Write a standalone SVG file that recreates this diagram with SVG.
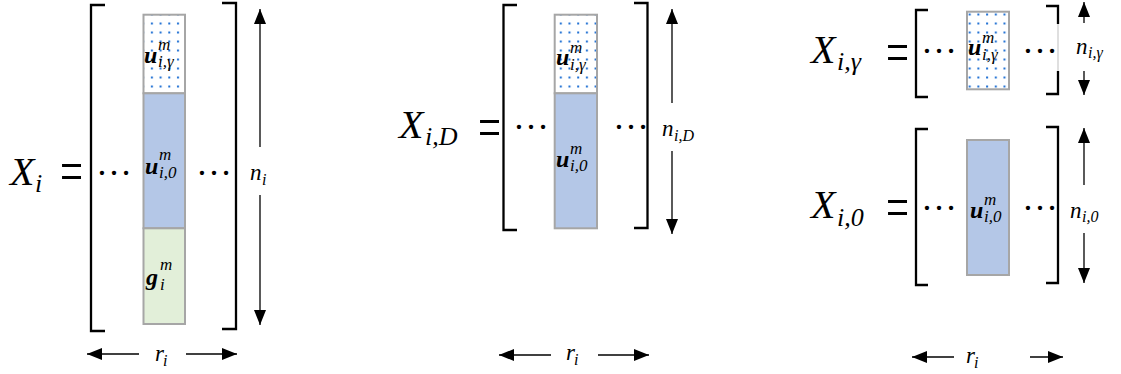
<svg xmlns="http://www.w3.org/2000/svg" width="1121" height="374" viewBox="0 0 1121 374">
<defs>
<style>
.br{fill:none;stroke:#000;stroke-width:2.3}
.cell{stroke:#a6a6a6;stroke-width:2}
.dot{fill:url(#dots)}
.blue{fill:#b4c7e7}
.green{fill:#e2efd9}
.mi{font-family:"Liberation Serif",serif;font-style:italic;fill:#000}
.X{font-size:40px}
.Xs{font-size:26px}
.eq{font-family:"Liberation Serif",serif;font-size:60px;fill:#000}
.dd{font-family:"Liberation Serif",serif;font-size:36px;fill:#000}
.bu{font-family:"Liberation Serif",serif;font-style:italic;font-weight:bold;font-size:24px}
.ss{font-size:17px;font-weight:normal}
.lab{font-size:23px}
.ls{font-size:16px}
.arr{stroke:#000;stroke-width:1.3;fill:none;marker-end:url(#ah)}
</style>
<pattern id="dots" patternUnits="userSpaceOnUse" x="1" y="1" width="8.7" height="9">
<rect width="8.7" height="9" fill="#fff"/>
<rect x="2" y="3.5" width="2" height="2" fill="#2272d4"/>
</pattern>
<marker id="ah" markerUnits="userSpaceOnUse" markerWidth="16" markerHeight="12" refX="15" refY="6" orient="auto">
<path d="M0,0 L15,6 L0,12 z" fill="#000"/>
</marker>
</defs>

<g id="panel-Xi">
<text class="mi X" x="10" y="185">X<tspan class="Xs" x="35" y="192">i</tspan></text>
<text class="eq" x="60" y="191" textLength="23" lengthAdjust="spacingAndGlyphs">=</text>
<path class="br" d="M105,5 H91 V331 H105"/>
<path class="br" d="M222,3 H236 V329 H222"/>
<text class="dd" x="114" y="175" text-anchor="middle">…</text>
<text class="dd" x="214" y="175" text-anchor="middle">…</text>
<rect class="cell dot" x="143.5" y="14.7" width="41.5" height="78.6"/>
<rect class="cell blue" x="143.5" y="93.3" width="41.5" height="135"/>
<rect class="cell green" x="143.5" y="228.3" width="41.5" height="95.7"/>
<text class="bu" x="144" y="63">u<tspan class="ss" x="158" y="50">m</tspan><tspan class="ss" x="158" y="67">i,γ</tspan></text>
<text class="bu" x="145" y="174">u<tspan class="ss" x="159" y="160">m</tspan><tspan class="ss" x="159" y="178">i,0</tspan></text>
<text class="bu" x="146" y="285">g<tspan class="ss" x="160" y="270">m</tspan><tspan class="ss" x="160" y="290">i</tspan></text>
<text class="mi lab" x="250" y="180">n<tspan class="ls" x="262" y="185">i</tspan></text>
<text class="mi lab" x="155" y="361">r<tspan class="ls" x="163" y="366">i</tspan></text>
</g>

<g id="panel-XiD">
<text class="mi X" x="399" y="138">X<tspan class="Xs" x="425" y="145">i,D</tspan></text>
<text class="eq" x="478" y="147" textLength="23" lengthAdjust="spacingAndGlyphs">=</text>
<path class="br" d="M517,5 H503.5 V230 H517"/>
<path class="br" d="M634,3 H647.5 V228 H634"/>
<text class="dd" x="531" y="129" text-anchor="middle">…</text>
<text class="dd" x="631" y="129" text-anchor="middle">…</text>
<rect class="cell dot" x="554.7" y="14.7" width="42.3" height="78.6"/>
<rect class="cell blue" x="554.7" y="93.3" width="42.3" height="135"/>
<text class="bu" x="556" y="65">u<tspan class="ss" x="570" y="53">m</tspan><tspan class="ss" x="570" y="70">i,γ</tspan></text>
<text class="bu" x="556" y="167">u<tspan class="ss" x="570" y="154">m</tspan><tspan class="ss" x="570" y="171">i,0</tspan></text>
<text class="mi lab" x="662" y="136">n<tspan class="ls" x="674" y="141">i,D</tspan></text>
<text class="mi lab" x="566" y="360">r<tspan class="ls" x="574" y="365">i</tspan></text>
</g>

<g id="panel-Xig">
<text class="mi X" x="811" y="63">X<tspan class="Xs" x="837" y="70">i,γ</tspan></text>
<text class="eq" x="886" y="72" textLength="23" lengthAdjust="spacingAndGlyphs">=</text>
<path class="br" d="M928,10 H916 V97 H928"/>
<path class="br" d="M1046,6 H1058 V24"/>
<path class="br" d="M1058,71 V94 H1046"/>
<line x1="1058" y1="24" x2="1058" y2="71" stroke="#bfbfbf" stroke-width="1"/>
<text class="dd" x="939" y="53" text-anchor="middle">…</text>
<text class="dd" x="1040" y="53" text-anchor="middle">…</text>
<rect class="cell dot" x="967" y="11.7" width="42" height="77.6"/>
<text class="bu" x="968" y="55">u<tspan class="ss" x="982" y="43">m</tspan><tspan class="ss" x="982" y="60">i,γ</tspan></text>
<text class="mi lab" x="1076" y="54">n<tspan class="ls" x="1088" y="58">i,γ</tspan></text>
</g>

<g id="panel-Xi0">
<text class="mi X" x="811" y="218">X<tspan class="Xs" x="837" y="226">i,0</tspan></text>
<text class="eq" x="886" y="227" textLength="23" lengthAdjust="spacingAndGlyphs">=</text>
<path class="br" d="M928,129 H916 V285 H928"/>
<path class="br" d="M1046,127 H1058 V283 H1046"/>
<text class="dd" x="939" y="210" text-anchor="middle">…</text>
<text class="dd" x="1040" y="210" text-anchor="middle">…</text>
<rect class="cell blue" x="967" y="140" width="42" height="135"/>
<text class="bu" x="970" y="218">u<tspan class="ss" x="984" y="205">m</tspan><tspan class="ss" x="984" y="222">i,0</tspan></text>
<text class="mi lab" x="1070" y="218">n<tspan class="ls" x="1082" y="222">i,0</tspan></text>
<text class="mi lab" x="966" y="363">r<tspan class="ls" x="974" y="368">i</tspan></text>
</g>

<g id="connectors">
<line class="arr" x1="260" y1="147" x2="260" y2="9"/>
<line class="arr" x1="260" y1="195" x2="260" y2="325"/>
<line class="arr" x1="139" y1="354" x2="87" y2="354"/>
<line class="arr" x1="186" y1="354" x2="237" y2="354"/>
<line class="arr" x1="672" y1="103" x2="672" y2="9"/>
<line class="arr" x1="672" y1="151" x2="672" y2="234"/>
<line class="arr" x1="551" y1="355" x2="499" y2="355"/>
<line class="arr" x1="598" y1="355" x2="649" y2="355"/>
<line class="arr" x1="1084" y1="23" x2="1084" y2="2"/>
<line class="arr" x1="1084" y1="71" x2="1084" y2="95"/>
<line class="arr" x1="1084" y1="185" x2="1084" y2="128"/>
<line class="arr" x1="1084" y1="233" x2="1084" y2="283"/>
<line class="arr" x1="954" y1="357" x2="912" y2="357"/>
<line class="arr" x1="1030" y1="357" x2="1063" y2="357"/>
</g>
</svg>
